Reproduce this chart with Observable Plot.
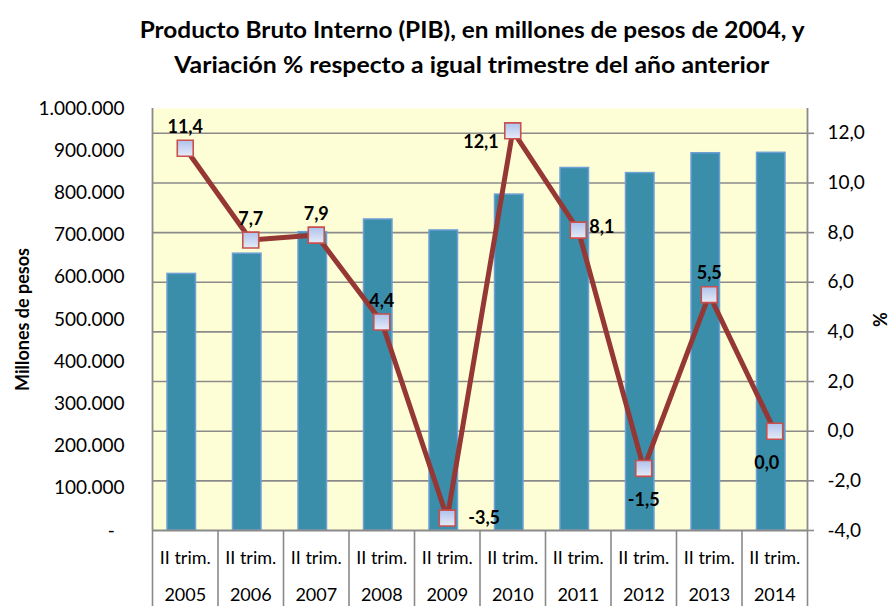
<!DOCTYPE html>
<html>
<head>
<meta charset="utf-8">
<script src="https://cdn.jsdelivr.net/npm/d3@7"></script>
<script src="https://cdn.jsdelivr.net/npm/@observablehq/plot@0.6"></script>
<style>
  body { margin: 0; background: #fff; font-family: Lato, "Open Sans", sans-serif; }
  #title { height: 90px; box-sizing: border-box; padding-top: 12px; padding-left: 52px; text-align: center; font-weight: bold; font-size: 22px; line-height: 35px; color: #000; white-space: nowrap; }
  #title span { display: inline-block; transform-origin: center; }
  #chart svg { display: block; }
  #chart svg text { font-family: Lato, "Open Sans", sans-serif; }
</style>
</head>
<body>
<div id="title"><span id="t1">Producto Bruto  Interno (PIB), en millones de pesos de 2004,  y</span><br><span id="t2">Variación % respecto a igual trimestre del año anterior</span></div>
<div id="chart"></div>
<script>
// ---- data ----
const years = ["2005", "2006", "2007", "2008", "2009", "2010", "2011", "2012", "2013", "2014"];
const periodo = "II trim.";
const pib = [608000, 656000, 707000, 737000, 711000, 796000, 859000, 847000, 894000, 895000];
const variacion = [11.4, 7.7, 7.9, 4.4, -3.5, 12.1, 8.1, -1.5, 5.5, 0.0];
const pibTicks = [0, 100000, 200000, 300000, 400000, 500000, 600000, 700000, 800000, 900000, 1000000];
const pctTicks = [-4, -2, 0, 2, 4, 6, 8, 10, 12];
const pibDomain = [0, 1000000];
const pctDomain = [-4, 13];
const leftTitle = "Millones de pesos";
const rightTitle = "%";

// ---- helpers ----
const toY = p => (p - pctDomain[0]) / (pctDomain[1] - pctDomain[0]) * (pibDomain[1] - pibDomain[0]) + pibDomain[0];
const fromY = y => (y - pibDomain[0]) / (pibDomain[1] - pibDomain[0]) * (pctDomain[1] - pctDomain[0]) + pctDomain[0];
const fmtPct = v => (Math.abs(v) < 1e-9 ? 0 : v).toFixed(1).replace(".", ",");
const fmtPib = v => v === 0 ? "-\u00a0\u00a0" : d3.format(",")(v).replace(/,/g, ".");

const idx = years.map((_, i) => i);
const edges = d3.range(years.length + 1).map(i => i - 0.5);

const W = 892, H = 516;
const mTop = 18, mBottom = 76, mLeft = 152, mRight = 85;

const grid = "#8a8a8a";
const labelFont = 18;

// label placement relative to markers
const placements = [
  {ids: [0, 1, 2, 3, 8], dx: 0, dy: -21, anchor: "middle"},
  {ids: [7], dx: 0, dy: 32, anchor: "middle"},
  {ids: [9], dx: -8, dy: 32, anchor: "middle"},
  {ids: [4], dx: 21, dy: 0, anchor: "start"},
  {ids: [6], dx: 11, dy: -3, anchor: "start"},
  {ids: [5], dx: -14, dy: 11, anchor: "end"}
];

const svg = Plot.plot({
  width: W,
  height: H,
  marginTop: mTop,
  marginBottom: mBottom,
  marginLeft: mLeft,
  marginRight: mRight,
  style: {fontFamily: "Lato, 'Open Sans', sans-serif", fontSize: "18px", color: "#000", background: "white", overflow: "visible"},
  x: {domain: [-0.5, years.length - 0.5]},
  y: {domain: pibDomain},
  marks: [
    Plot.frame({fill: "#FEFED6", stroke: null}),
    Plot.ruleY(pctTicks.filter(p => p > pctDomain[0]).map(toY), {stroke: grid, strokeWidth: 1.6}),
    Plot.rectY(idx, {
      x1: i => i - 0.5, x2: i => i + 0.5, y: i => pib[i],
      insetLeft: 18.5, insetRight: 18.5, dx: -3.5,
      fill: "#3A8EA9", stroke: "#6E9FD6", strokeWidth: 1.5
    }),
    // axis frame lines
    Plot.ruleY([pibDomain[0]], {stroke: grid, strokeWidth: 1.8}),
    Plot.ruleX([edges[0], edges[edges.length - 1]], {y1: pibDomain[0], y2: pibDomain[1], stroke: grid, strokeWidth: 1.8}),
    // category separators below the axis
    Plot.axisX(edges, {tickSize: mBottom, tickFormat: () => "", stroke: grid, strokeWidth: 1.6, label: null}),
    Plot.axisX(idx, {tickSize: 0, tickPadding: 21, fontSize: 18, tickFormat: () => periodo, label: null}),
    Plot.axisX(idx, {tickSize: 0, tickPadding: 58, fontSize: 18, tickFormat: i => years[i], label: null}),
    Plot.axisY(pibTicks, {anchor: "left", tickSize: 0, tickPadding: 28, tickFormat: fmtPib, fontSize: 19, label: null}),
    Plot.axisY(pctTicks.map(toY), {anchor: "right", tickSize: 6, tickPadding: 14, tickFormat: d => fmtPct(fromY(d)), fontSize: 19, stroke: grid, strokeWidth: 1.6, label: null}),
    // series line
    Plot.line(idx, {x: i => i, y: i => toY(variacion[i]), stroke: "#953735", strokeWidth: 5}),
    Plot.dot(idx, {x: i => i, y: i => toY(variacion[i]), symbol: "square", r: 9, fill: "url(#mkgrad)", stroke: "#C9504D", strokeWidth: 1.6}),
    // value labels
    ...placements.map(p => Plot.text(p.ids, {
      x: i => i, y: i => toY(variacion[i]), text: i => fmtPct(variacion[i]),
      dx: p.dx, dy: p.dy, textAnchor: p.anchor, lineAnchor: "middle",
      fontWeight: "bold", fontSize: labelFont, fill: "#000"
    })),
    // axis titles
    Plot.text([leftTitle], {frameAnchor: "left", dx: -129, rotate: -90, fontWeight: "bold", fontSize: 18, textAnchor: "middle", lineAnchor: "middle"}),
    Plot.text([rightTitle], {frameAnchor: "right", dx: 74, rotate: -90, fontWeight: "bold", fontSize: 18, textAnchor: "middle", lineAnchor: "middle"})
  ]
});

// gradient for markers
const defs = d3.select(svg).insert("defs", ":first-child");
const g = defs.append("linearGradient").attr("id", "mkgrad").attr("x1", 0).attr("y1", 0).attr("x2", 0).attr("y2", 1);
g.append("stop").attr("offset", "0%").attr("stop-color", "#AFC2EC");
g.append("stop").attr("offset", "100%").attr("stop-color", "#E6ECF8");

document.getElementById("chart").appendChild(svg);

// fit title lines to the reference widths
function fit(id, target) {
  const el = document.getElementById(id);
  const w = el.getBoundingClientRect().width;
  if (w > 0) el.style.transform = `scaleX(${target / w})`;
}
fit("t1", 665);
fit("t2", 595);
</script>
</body>
</html>
